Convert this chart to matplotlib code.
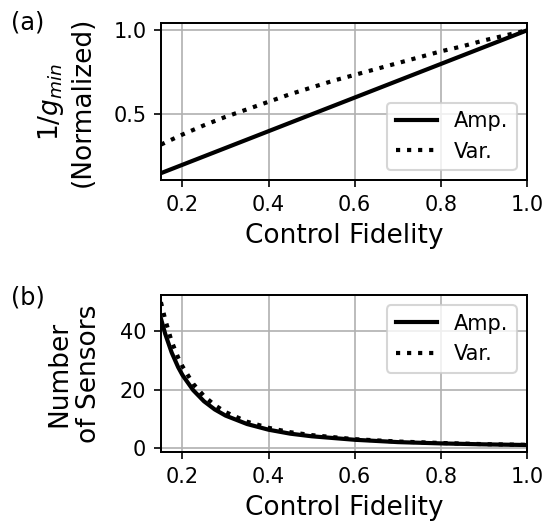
import matplotlib
matplotlib.use('Agg')
import matplotlib.pyplot as plt

plt.rc('font', family='DejaVu Sans', size=10)

# panel (a): normalized 1/g_min
fid_a = [0.15, 0.2, 0.25, 0.3, 0.35, 0.4, 0.45, 0.5, 0.55, 0.6, 0.65, 0.7, 0.75, 0.8, 0.85, 0.9, 0.95, 1.0]
amp_a = [0.15, 0.2, 0.25, 0.3, 0.35, 0.4, 0.45, 0.5, 0.55, 0.6, 0.65, 0.7, 0.75, 0.8, 0.85, 0.9, 0.95, 1.0]
var_a = [0.32, 0.38, 0.435, 0.485, 0.53, 0.575, 0.62, 0.66, 0.70, 0.735, 0.77, 0.805, 0.84, 0.875, 0.905, 0.94, 0.97, 1.0]

# panel (b): number of sensors
fid_b = [0.15, 0.16, 0.175, 0.19, 0.2, 0.225, 0.25, 0.275, 0.3, 0.35, 0.4, 0.45, 0.5, 0.6, 0.7, 0.8, 0.9, 1.0]
amp_b = [44.4, 39.1, 32.7, 27.7, 25.0, 19.8, 16.0, 13.2, 11.1, 8.2, 6.25, 4.9, 4.0, 2.8, 2.0, 1.56, 1.23, 1.0]
var_b = [50.0, 44.0, 36.5, 31.0, 28.0, 22.0, 17.8, 14.7, 12.3, 9.0, 6.9, 5.4, 4.4, 3.0, 2.2, 1.7, 1.3, 1.05]

fig, (ax1, ax2) = plt.subplots(2, 1, figsize=(553 / 150, 527 / 150), dpi=150)
fig.subplots_adjust(left=0.291, right=0.953, top=0.956, bottom=0.142, hspace=0.73)

for ax in (ax1, ax2):
    ax.grid(True)
    ax.set_axisbelow(True)
    for s in ax.spines.values():
        s.set_linewidth(0.95)

ax1.plot(fid_a, amp_a, color='black', linewidth=2, label='Amp.')
ax1.plot(fid_a, var_a, color='black', linewidth=2, linestyle=':', label='Var.')
ax1.set_xlim(0.15, 1.0)
ax1.set_xticks([0.2, 0.4, 0.6, 0.8, 1.0])
ax1.set_yticks([0.5, 1.0])
ax1.set_xlabel('Control Fidelity', fontsize=12.7)
ax1.set_ylabel('$1/g_{min}$\n(Normalized)', fontsize=12.7, labelpad=8.5)
ax1.legend(loc='lower right')

ax2.plot(fid_b, amp_b, color='black', linewidth=2, label='Amp.')
ax2.plot(fid_b, var_b, color='black', linewidth=2, linestyle=':', label='Var.')
ax2.set_xlim(0.15, 1.0)
ax2.set_xticks([0.2, 0.4, 0.6, 0.8, 1.0])
ax2.set_yticks([0, 20, 40])
ax2.set_xlabel('Control Fidelity', fontsize=12.7)
ax2.set_ylabel('Number\nof Sensors', fontsize=12.7, labelpad=8.5)
ax2.legend(loc='upper right')

fig.text(0.05, 0.958, '(a)', fontsize=11.5, ha='center', va='center')
fig.text(0.05, 0.436, '(b)', fontsize=11.5, ha='center', va='center')

plt.savefig('out.png', dpi=150)
